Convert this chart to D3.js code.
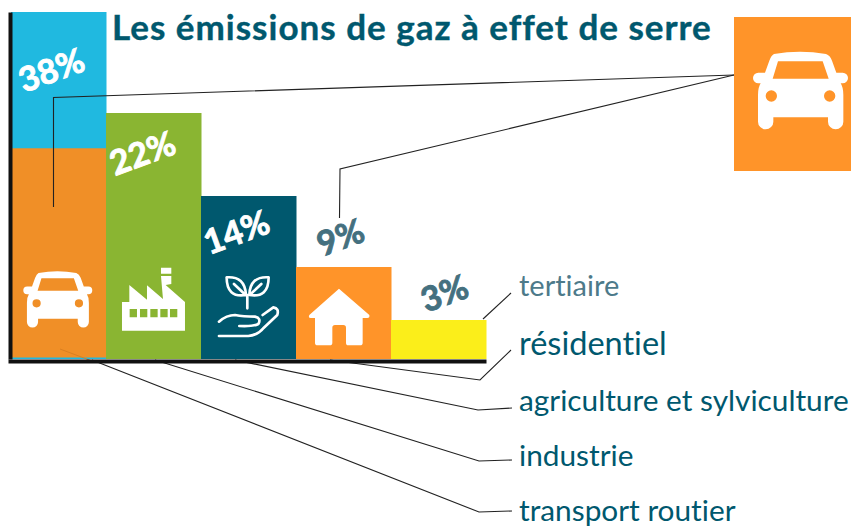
<!DOCTYPE html>
<html>
<head>
<meta charset="utf-8">
<script src="https://cdn.jsdelivr.net/npm/d3@7"></script>
<style>
  html, body { margin: 0; padding: 0; background: #fff; }
  text { font-family: Lato, sans-serif; font-variant-ligatures: none; }
</style>
</head>
<body>
<div id="chart"></div>
<script>
// Data
const categories = ["transport", "industrie", "agriculture", "residentiel", "tertiaire"];
const shares = [38, 22, 14, 9, 3];
const shareLabels = ["38%", "22%", "14%", "9%", "3%"];
const routierPart = 18.6; // orange part of the first bar
const legendLabels = ["tertiaire", "résidentiel", "agriculture et sylviculture", "industrie", "transport routier"];
const barColors = ["#20b9e0", "#8ab532", "#00586e", "#ff9429", "#fbee1a"];
const routierColor = "#f08f27";
const title = "Les émissions de gaz à effet de serre";

const width = 851, height = 526;

const svg = d3.select("#chart").append("svg")
    .attr("width", width)
    .attr("height", height)
    .style("display", "block");

// Bar heights in the original are not proportional to the percentages,
// so the y scale is piecewise
const x = d3.scaleBand().domain(categories).range([11, 486]).padding(0);
const y = d3.scaleLinear().domain([0, 3, 9, 14, 22, 38]).range([359, 320, 267, 196, 113, 12]);

// Leader lines sit under the bars
const leaderLine = d3.line();
const leaders = [
    [[734, 75], [53.5, 97.5], [53.5, 207]],
    [[734, 75], [340, 169], [339.5, 218]],
    [[511, 293], [483, 319]],
    [[511, 350], [480, 380], [330, 360]],
    [[512, 408], [478, 410], [235, 360]],
    [[512, 460], [479, 461], [155, 360]],
    [[512, 511], [479, 512], [92, 360]]
];

// Bars
svg.append("g").selectAll("rect")
    .data(shares)
    .enter()
    .append("rect")
    .attr("x", (d, i) => x(categories[i]))
    .attr("y", d => y(d))
    .attr("width", x.bandwidth() + 0.5)
    .attr("height", d => y(0) - y(d))
    .attr("fill", (d, i) => barColors[i]);

svg.append("rect")
    .attr("x", x(categories[0]))
    .attr("y", y(routierPart))
    .attr("width", x.bandwidth())
    .attr("height", y(0) - y(routierPart) - 1.5)
    .attr("fill", routierColor);

// Faint end of the transport leader, seen through the orange
svg.append("path")
    .attr("d", leaderLine([[60, 349], [92, 361]]))
    .attr("fill", "none")
    .attr("stroke", "#d97f22")
    .attr("stroke-width", 1);

svg.append("g").selectAll("path")
    .data(leaders)
    .enter()
    .append("path")
    .attr("d", d => leaderLine(d))
    .attr("fill", "none")
    .attr("stroke", "#222")
    .attr("stroke-width", 1.1);

// Axes, no ticks
svg.append("g")
    .attr("transform", "translate(0,361)")
    .call(d3.axisBottom(x.copy().range([8, 486])).tickValues([]).tickSizeOuter(0))
    .select(".domain")
    .attr("stroke", "#111")
    .attr("stroke-width", 4);

svg.append("g")
    .attr("transform", "translate(10,0)")
    .call(d3.axisLeft(y).tickValues([]).tickSizeOuter(0))
    .select(".domain")
    .attr("stroke", "#111")
    .attr("stroke-width", 4);

// Icons, drawn in the 3x coordinates of the zoomed picture
const carPath = "M222 162Q300 148 378 162Q390 166 396 182L409 218H428A16 16 0 0 1 428 250H422Q430 262 430 285V365A23 23 0 0 1 384 365V352H220V365A23 23 0 0 1 174 365V285Q174 262 182 250H175A16 16 0 0 1 175 218H195L208 182Q214 166 222 162Z"
    + "M234 184H368L386 236H218Z"
    + "M197 288A17 17 0 1 0 231 288A17 17 0 1 0 197 288Z"
    + "M372 288A17 17 0 1 0 406 288A17 17 0 1 0 372 288Z";

let factoryPath = "M366 392V306H388V255L441 299V256L489 297L483 228H514V252L497 255L555 306V392Z"
    + "M483 203H514V221H483Z";
[389, 420, 451, 481, 510].forEach(hx => {
    factoryPath += `M${hx} 327H${hx + 22}V352H${hx}Z`;
});

const plantPath = "M680 232Q735 228 738 285Q680 295 680 232Z"
    + "M806 232Q750 228 748 285Q806 295 806 232Z"
    + "M702 252L736 284M784 252L750 284M742 285V325"
    + "M657 365Q680 345 705 345Q730 350 765 350Q785 355 775 372Q760 380 718 378"
    + "M657 408H745Q775 405 790 385L832 345Q838 325 820 322L788 345";

const housePath = "M147 266L238 345Q240 354 232 354H218V428Q218 436 210 436H175Q168 436 168 428V383Q168 375 160 375H135Q127 375 127 383V428Q127 436 119 436H83Q75 436 75 428V354H62Q54 354 58 345Z";

// Big car square on the right
svg.append("rect")
    .attr("x", 734).attr("y", 17)
    .attr("width", 117).attr("height", 154)
    .attr("fill", "#ff9429");

svg.append("path")
    .attr("d", carPath)
    .attr("transform", `translate(${753 - 159 / 3},${51 - 153 / 3}) scale(${1 / 3})`)
    .attr("fill", "#fff")
    .attr("fill-rule", "evenodd");

svg.append("path")
    .attr("d", carPath)
    .attr("transform", `translate(${23.3 - 159 * 0.242},${270.7 - 153 * 0.242}) scale(0.242)`)
    .attr("fill", "#fff")
    .attr("fill-rule", "evenodd");

svg.append("path")
    .attr("d", factoryPath)
    .attr("transform", "translate(0,200) scale(0.3333)")
    .attr("fill", "#fff")
    .attr("fill-rule", "evenodd");

svg.append("path")
    .attr("d", plantPath)
    .attr("transform", "translate(0,200) scale(0.3333)")
    .attr("fill", "none")
    .attr("stroke", "#fff")
    .attr("stroke-width", 8)
    .attr("stroke-linecap", "round")
    .attr("stroke-linejoin", "round");

svg.append("path")
    .attr("d", housePath)
    .attr("transform", "translate(290,200) scale(0.3333)")
    .attr("fill", "#fff");

// Title
svg.append("text")
    .attr("x", 112)
    .attr("y", 40)
    .attr("font-size", 35)
    .attr("font-weight", 700)
    .attr("letter-spacing", 1)
    .attr("stroke", "#00586e")
    .attr("stroke-width", 0.4)
    .attr("fill", "#00586e")
    .text(title);

// Percent labels, tilted
const labelOffsets = [[-7, 58], [-11, 40], [-12, 36], [-3, -30], [6, -27]];
const labelColors = ["#fff", "#fff", "#fff", "#44707f", "#44707f"];

svg.append("g").selectAll("text")
    .data(shareLabels)
    .enter()
    .append("text")
    .attr("transform", (d, i) => {
        const cx = x(categories[i]) + x.bandwidth() / 2 + labelOffsets[i][0];
        const cy = y(shares[i]) + labelOffsets[i][1];
        return `translate(${cx},${cy}) rotate(-20)`;
    })
    .attr("text-anchor", "middle")
    .attr("dy", "0.36em")
    .attr("font-size", 34)
    .attr("font-weight", 700)
    .attr("stroke", (d, i) => labelColors[i])
    .attr("stroke-width", 0.9)
    .attr("fill", (d, i) => labelColors[i])
    .text(d => d);

// Legend labels on the right of the leader lines
const legendY = [296, 355, 411, 466, 521];
const legendSizes = [29, 32.5, 29.8, 29.8, 29.8];
const legendColors = ["#4d7a8a", "#00586e", "#00586e", "#00586e", "#00586e"];

svg.append("g").selectAll("text")
    .data(legendLabels)
    .enter()
    .append("text")
    .attr("x", 519)
    .attr("y", (d, i) => legendY[i])
    .attr("font-size", (d, i) => legendSizes[i])
    .attr("fill", (d, i) => legendColors[i])
    .text(d => d);
</script>
</body>
</html>
